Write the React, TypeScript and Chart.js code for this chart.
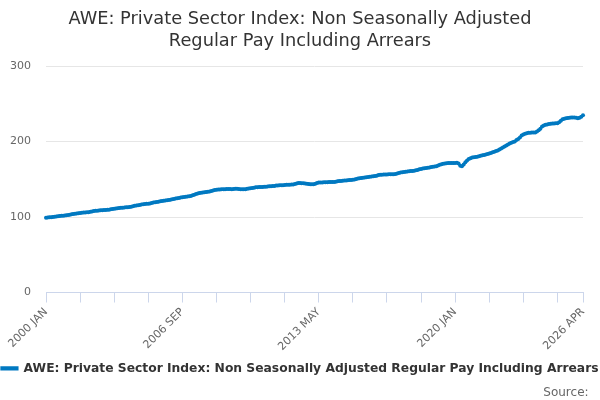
import { useEffect, useRef } from "react";
import { Chart, registerables } from "chart.js";

Chart.register(...registerables);

const years = [2000, 2001, 2002, 2003, 2004, 2005, 2006, 2007, 2008, 2009, 2010, 2011, 2012, 2013, 2014, 2015, 2016, 2017, 2018, 2019, 2020, 2021, 2022, 2023, 2024, 2025, 2026];
const months = ["JAN", "FEB", "MAR", "APR", "MAY", "JUN", "JUL", "AUG", "SEP", "OCT", "NOV", "DEC"];

// index values, one row per year (2026 stops at APR)
const pay = [
  99.0, 99.3, 99.6, 99.9, 100.2, 100.5, 100.8, 101.0, 101.3, 101.6, 101.9, 102.2,
  102.4, 102.7, 103.2, 103.8, 104.2, 104.5, 104.8, 105.0, 105.3, 105.6, 105.9, 106.1,
  106.3, 106.5, 107.0, 107.5, 107.9, 108.2, 108.5, 108.7, 108.9, 109.1, 109.3, 109.5,
  109.6, 109.8, 110.2, 110.7, 111.1, 111.5, 111.8, 112.1, 112.3, 112.5, 112.7, 112.9,
  113.1, 113.3, 113.8, 114.4, 114.9, 115.3, 115.7, 116.1, 116.5, 116.9, 117.2, 117.5,
  117.8, 118.1, 118.6, 119.2, 119.7, 120.0, 120.4, 120.8, 121.2, 121.6, 122.0, 122.3,
  122.6, 122.9, 123.5, 124.1, 124.6, 125.0, 125.4, 125.8, 126.2, 126.6, 127.0, 127.3,
  127.6, 128.0, 128.8, 129.7, 130.5, 131.2, 131.8, 132.3, 132.7, 133.0, 133.3, 133.6,
  134.0, 134.5, 135.2, 135.9, 136.2, 136.4, 136.6, 136.8, 136.9, 137.0, 137.1, 137.1,
  137.1, 136.9, 137.1, 137.5, 137.6, 137.3, 137.0, 136.8, 136.7, 137.0, 137.5, 138.0,
  138.3, 138.6, 139.0, 139.4, 139.6, 139.7, 139.8, 139.9, 140.1, 140.3, 140.5, 140.7,
  140.9, 141.0, 141.3, 141.7, 141.9, 142.0, 142.1, 142.3, 142.5, 142.7, 142.8, 142.9,
  143.0, 143.2, 143.7, 144.4, 145.0, 145.0, 144.9, 144.7, 144.5, 144.2, 143.9, 143.6,
  143.5, 143.6, 144.3, 145.3, 145.7, 145.8, 145.9, 146.0, 146.1, 146.2, 146.3, 146.4,
  146.5, 146.6, 146.9, 147.4, 147.7, 147.8, 148.0, 148.3, 148.6, 148.8, 149.0, 149.2,
  149.4, 149.7, 150.3, 151.0, 151.5, 151.9, 152.2, 152.5, 152.8, 153.1, 153.4, 153.7,
  154.0, 154.3, 154.9, 155.6, 156.0, 156.2, 156.3, 156.4, 156.5, 156.6, 156.7, 156.8,
  156.9, 157.1, 157.7, 158.5, 159.0, 159.4, 159.7, 160.0, 160.3, 160.6, 160.9, 161.2,
  161.5, 161.9, 162.5, 163.3, 163.8, 164.2, 164.6, 165.0, 165.4, 165.8, 166.2, 166.6,
  167.0, 167.5, 168.3, 169.4, 170.0, 170.6, 171.0, 171.3, 171.5, 171.6, 171.6, 171.6,
  171.7, 172.0, 171.0, 168.0, 167.5, 169.5, 172.5, 175.0, 177.0, 178.0, 178.8, 179.3,
  179.6, 180.0, 180.6, 181.4, 181.9, 182.4, 182.9, 183.5, 184.2, 185.0, 185.8, 186.6,
  187.4, 188.3, 189.5, 191.0, 192.3, 193.6, 195.0, 196.3, 197.4, 198.5, 199.4, 200.2,
  202.0, 203.5, 205.5, 208.0, 209.5, 210.5, 211.2, 211.6, 211.8, 212.0, 212.1, 212.2,
  213.5, 215.0, 217.0, 220.0, 221.5, 222.3, 222.8, 223.3, 223.8, 224.0, 224.1, 224.2,
  224.3, 225.5, 227.5, 229.5, 230.3, 230.8, 231.2, 231.6, 231.9, 232.0, 231.8, 231.5,
  231.0, 231.5, 233.0, 235.0,
];

const yTicks = [0, 100, 200, 300];

const labels: string[] = [];
years.forEach((y) => months.forEach((m) => labels.push(`${y} ${m}`)));
labels.length = pay.length;

const FONT = "'DejaVu Sans', sans-serif";
const LINE = "#0079c1";

export default function App() {
  const ref = useRef<HTMLCanvasElement>(null);
  useEffect(() => {
    document.body.style.margin = "0";
    const last = labels.length - 1;
    const chart = new Chart(ref.current!, {
      type: "line",
      data: {
        labels,
        datasets: [
          {
            label: "AWE: Private Sector Index: Non Seasonally Adjusted Regular Pay Including Arrears",
            data: pay,
            borderColor: LINE,
            backgroundColor: LINE,
            borderWidth: 2.2,
            pointRadius: 2,
            pointBorderWidth: 0,
            pointBackgroundColor: LINE,
            tension: 0,
          },
        ],
      },
      options: {
        responsive: false,
        animation: false,
        layout: { padding: { left: 0, right: 0, top: 4, bottom: 0 } },
        scales: {
          x: {
            grid: {
              drawOnChartArea: false,
              tickLength: 10,
              tickColor: (c: any) => (c.index % 20 === 0 || c.index === last ? "#ccd6eb" : "transparent"),
            },
            border: { color: "#ccd6eb" },
            ticks: {
              autoSkip: false,
              minRotation: 45,
              maxRotation: 45,
              color: "#666",
              font: { family: FONT, size: 11 },
              callback: (_v: any, i: number) => (i % 80 === 0 || i === last ? labels[i] : ""),
            },
          },
          y: {
            min: yTicks[0],
            max: yTicks[yTicks.length - 1],
            afterBuildTicks: (s: any) => {
              s.ticks = yTicks.map((v) => ({ value: v }));
            },
            afterFit: (s: any) => {
              s.width = 46;
            },
            grid: { color: "#e6e6e6", drawTicks: false },
            border: { display: false },
            ticks: { color: "#666", padding: 15, font: { family: FONT, size: 11 } },
          },
          // empty right margin so the legend can use the full width
          gap: {
            axis: "y",
            position: "right",
            grid: { display: false },
            border: { display: false },
            ticks: { display: false },
            afterFit: (s: any) => {
              s.width = 17;
            },
          },
        },
        plugins: {
          title: {
            display: true,
            text: ["AWE: Private Sector Index: Non Seasonally Adjusted", "Regular Pay Including Arrears"],
            color: "#333",
            font: { family: FONT, size: 17.8, weight: "normal", lineHeight: 1.24 },
            padding: { top: 4, bottom: 14 },
          },
          subtitle: {
            display: true,
            position: "bottom",
            align: "end",
            text: "Source:\u00a0\u00a0\u00a0",
            color: "#666",
            font: { family: FONT, size: 12 },
            padding: { top: 1, bottom: 0 },
          },
          legend: {
            position: "bottom",
            labels: {
              color: "#333",
              boxWidth: 16,
              boxHeight: 2,
              padding: 6,
              font: { family: FONT, size: 12.3, weight: "bold" },
            },
          },
          tooltip: { enabled: false },
        },
      },
    });
    return () => chart.destroy();
  }, []);

  return (
    <div style={{ width: 600, height: 400 }}>
      <canvas ref={ref} width={600} height={400} />
    </div>
  );
}
